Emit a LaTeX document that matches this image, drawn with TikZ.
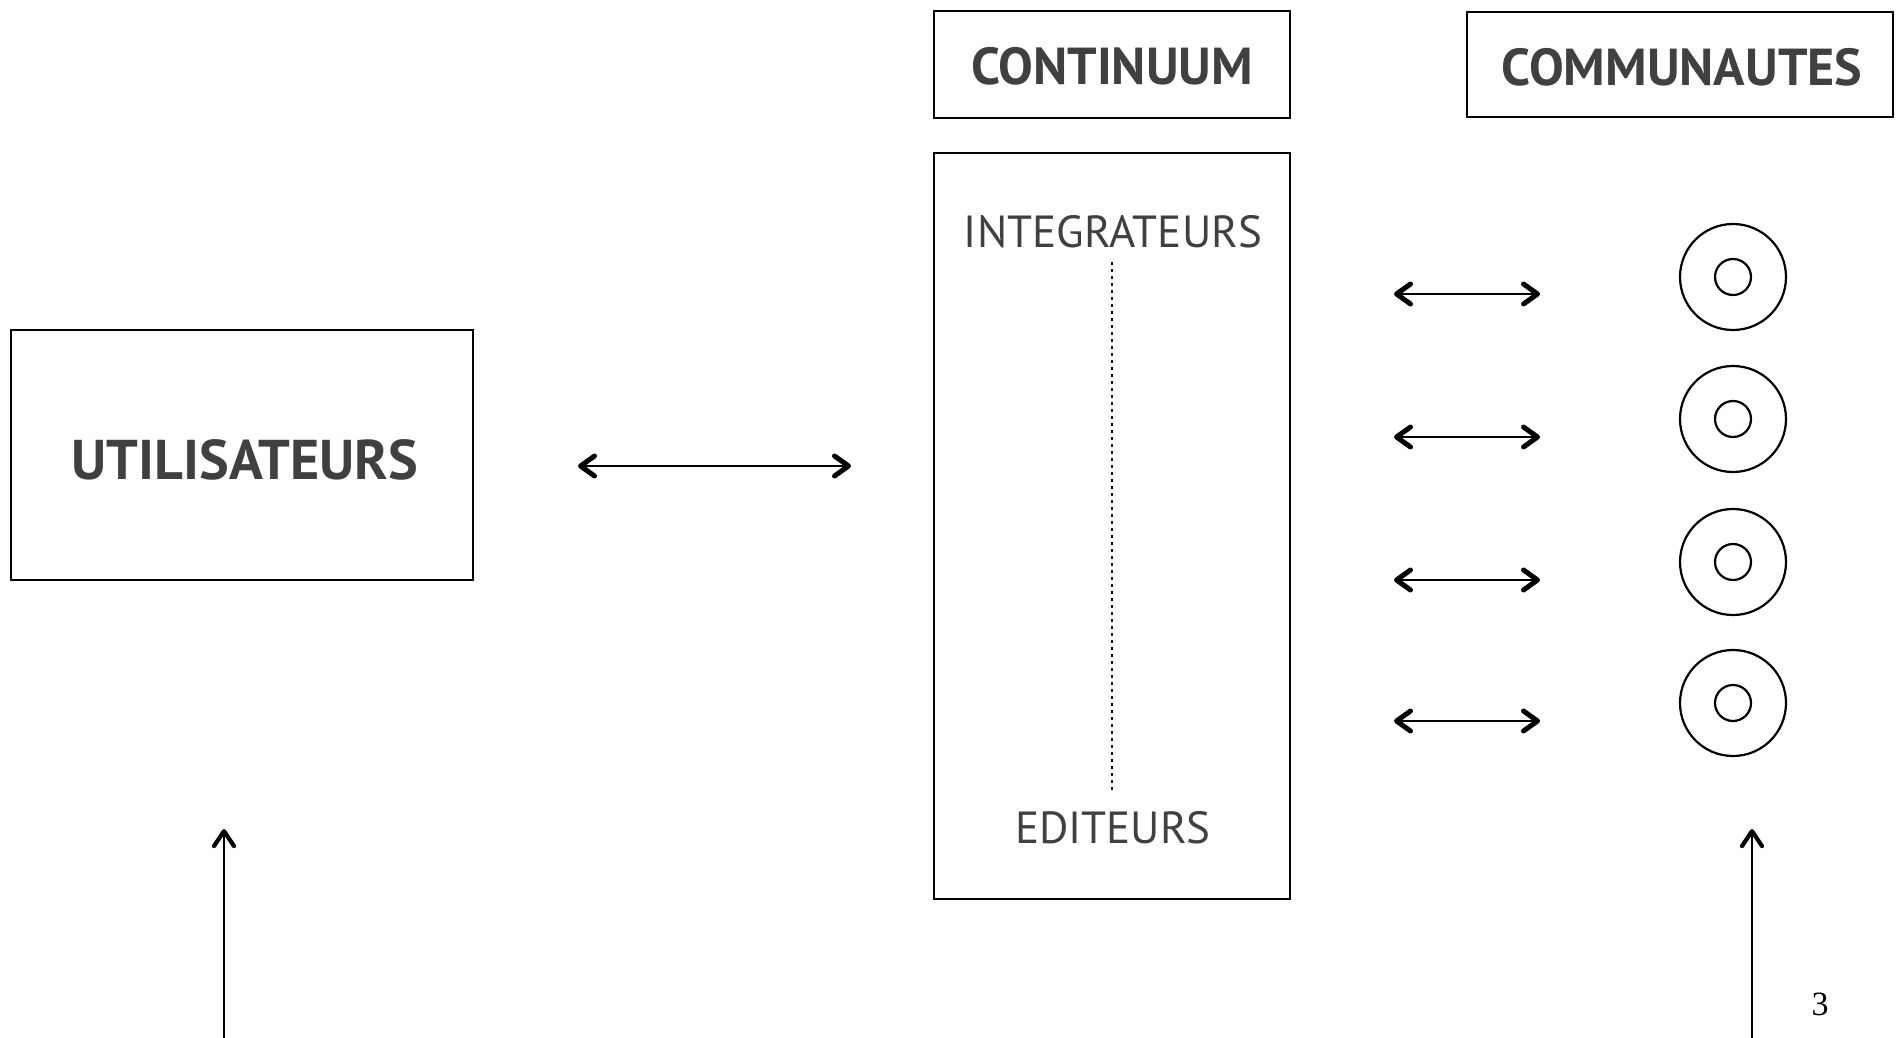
\documentclass[tikz,border=0pt]{standalone}
\usepackage{fontspec}
\setmainfont{PT Sans}
\newfontfamily\numfont{Liberation Serif}
\usetikzlibrary{arrows.meta}
\definecolor{txtgrey}{HTML}{404040}
\begin{document}
\begin{tikzpicture}[x=1pt,y=-1pt,
  boxstyle/.style={draw=black,line width=2.2pt,rectangle,inner sep=0pt},
  boldlbl/.style={text=txtgrey,font=\fontsize{52}{60}\selectfont\bfseries,inner sep=0pt,anchor=base},
  plainlbl/.style={text=txtgrey,font=\fontsize{45}{54}\selectfont,inner sep=0pt,anchor=base},
  barb/.style={Straight Barb[length=14pt,width=20pt,line width=5pt,line cap=round,line join=round]},
  dblarrow/.style={line width=2.6pt,{Straight Barb[length=14pt,width=20pt,line width=5pt,line cap=round,line join=round]}-{Straight Barb[length=14pt,width=20pt,line width=5pt,line cap=round,line join=round]}},
  uparrow/.style={line width=2.8pt,-{Straight Barb[length=15pt,width=20pt,line width=4.2pt,line cap=round,line join=round]}},
  ring/.style={draw=black,line width=2.2pt,circle,inner sep=0pt}
]
\useasboundingbox (0,0) rectangle (1898,1038);
% boxes
\node[boxstyle,minimum width=356pt,minimum height=107pt] (contbox) at (1112,64.5) {};
\node[boxstyle,minimum width=426pt,minimum height=105pt] (commbox) at (1680,64.5) {};
\node[boxstyle,minimum width=356pt,minimum height=746pt] (mainbox) at (1112,526) {};
\node[boxstyle,minimum width=462pt,minimum height=250pt] (utilbox) at (242,455) {};
% labels
\node[boldlbl] (conttxt) at (1112,85) {CONTINUUM};
\node[boldlbl] (commtxt) at (1682,86) {COMMUNAUTES};
\node[boldlbl,font=\fontsize{56}{64}\selectfont\bfseries] (utiltxt) at (245,479) {UTILISATEURS};
\node[plainlbl] (integ) at (1113,247) {INTEGRATEURS};
\node[plainlbl] (edit) at (1113,843) {EDITEURS};
% dotted line
\coordinate (dotA) at (1112,262);
\coordinate (dotB) at (1112,793);
\draw[line width=2.6pt,dash pattern=on 2.5pt off 4.5pt] (dotA) -- (dotB);
% main arrow
\coordinate (mA) at (578,466);
\coordinate (mB) at (851,466);
\draw[dblarrow] (mA) -- (mB);
% rings and arrows
\foreach \i/\ya/\yc in {1/294/277,2/437/419,3/580/562,4/721/703}{
  \node[ring,minimum size=106pt] (outer\i) at (1733,\yc) {};
  \node[ring,minimum size=36pt] (inner\i) at (1733,\yc) {};
  \coordinate (sa\i) at (1394,\ya);
  \coordinate (sb\i) at (1540,\ya);
  \draw[dblarrow] (sa\i) -- (sb\i);
}
% vertical arrows
\coordinate (vl0) at (224,1045);
\coordinate (vl1) at (224,829);
\draw[uparrow] (vl0) -- (vl1);
\coordinate (vr0) at (1752,1045);
\coordinate (vr1) at (1752,829);
\draw[uparrow] (vr0) -- (vr1);
% page number
\node[text=black,font=\numfont\fontsize{34}{40}\selectfont,inner sep=0pt,anchor=base] (pnum) at (1820,1015) {3};
\end{tikzpicture}
\end{document}
